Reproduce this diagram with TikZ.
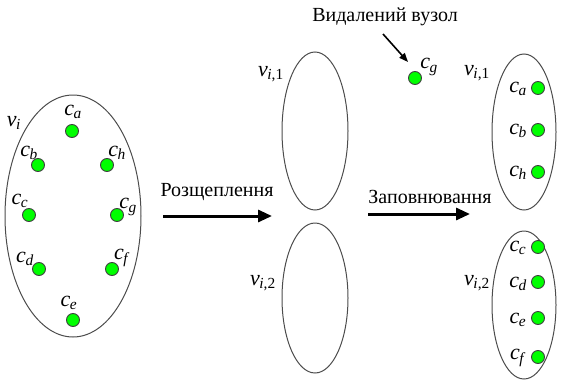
\documentclass[tikz,border=0pt]{standalone}
\usepackage{fontspec}
\setmainfont{Liberation Serif}
\usetikzlibrary{shapes.geometric,arrows.meta}
\newcommand{\lb}[2]{\textit{#1}\textsubscript{\kern-0.5pt\textit{#2}}}
\newcommand{\lbv}[1]{\textit{v}\textsubscript{\kern-0.5pt\textit{i},#1}}
\tikzset{
  dot/.style={circle,draw=black!75,line width=0.9pt,fill=green,minimum size=13pt,inner sep=0pt},
  grp/.style={ellipse,draw=black!70,line width=1pt,inner sep=0pt},
  lab/.style={font=\fontsize{22}{24}\selectfont,inner sep=0pt},
  txt/.style={font=\fontsize{20}{22}\selectfont,inner sep=0pt},
  bigarrow/.style={line width=3pt,-{Triangle[length=14pt,width=12pt]}},
  smallarrow/.style={line width=1.6pt,-{Triangle[length=9pt,width=7pt]}}
}
\begin{document}
\begin{tikzpicture}[x=1pt,y=-1pt]
\useasboundingbox (0,0) rectangle (565,383);
% left big group
\node[grp,minimum width=136pt,minimum height=242pt] (vi) at (73,216) {};
\node[lab] (tvi) at (14,123) {\lb{v}{i}};
\node[dot] (da) at (72,131) {};
\node[dot] (db) at (38,165) {};
\node[dot] (dh) at (107,165) {};
\node[dot] (dc) at (29,215) {};
\node[dot] (dg) at (117,215) {};
\node[dot] (dd) at (39,269) {};
\node[dot] (df) at (112,269) {};
\node[dot] (de) at (73,320) {};
\node[lab] (la) at (73,112) {\lb{c}{a}};
\node[lab] (lbb) at (29,153) {\lb{c}{b}};
\node[lab] (lh) at (117,153) {\lb{c}{h}};
\node[lab] (lc) at (20,201) {\lb{c}{c}};
\node[lab] (lg) at (128,207) {\lb{c}{g}};
\node[lab] (ld) at (25,259) {\lb{c}{d}};
\node[lab] (lf) at (122,258) {\lb{c}{f}};
\node[lab] (le) at (69,303) {\lb{c}{e}};
% arrow 1
\coordinate (a1s) at (163,216);
\coordinate (a1e) at (272,216);
\draw[bigarrow] (a1s) -- (a1e);
\node[txt] (t1) at (217,192) {Розщеплення};
% middle groups
\node[grp,minimum width=66pt,minimum height=158pt] (m1) at (315,131) {};
\node[grp,minimum width=66pt,minimum height=150pt] (m2) at (315,298) {};
\node[lab] (tm1) at (271,74) {\lbv{1}};
\node[lab] (tm2) at (263,283) {\lbv{2}};
% removed node
\node[txt] (rem) at (385,17) {Видалений вузол};
\node[dot] (dgr) at (415,78) {};
\node[lab] (lgr) at (429,67) {\lb{c}{g}};
\coordinate (r1) at (383,34);
\coordinate (r2) at (408,62);
\draw[smallarrow] (r1) -- (r2);
% arrow 2
\coordinate (a2s) at (368,214);
\coordinate (a2e) at (470,214);
\draw[bigarrow] (a2s) -- (a2e);
\node[txt] (t2) at (430,197) {Заповнювання};
% right groups
\node[grp,minimum width=64pt,minimum height=156pt] (r1g) at (524,132) {};
\node[grp,minimum width=64pt,minimum height=148pt] (r2g) at (524,305) {};
\node[lab] (tr1) at (477,73) {\lbv{1}};
\node[lab] (tr2) at (477,283) {\lbv{2}};
\node[dot] (ra) at (538,88) {};
\node[dot] (rb) at (538,130) {};
\node[dot] (rh) at (538,172) {};
\node[lab] (lra) at (518,89) {\lb{c}{a}};
\node[lab] (lrb) at (518,131) {\lb{c}{b}};
\node[lab] (lrh) at (518,173) {\lb{c}{h}};
\node[dot] (rc) at (538,247) {};
\node[dot] (rd) at (538,282) {};
\node[dot] (re) at (538,318) {};
\node[dot] (rf) at (538,357) {};
\node[lab] (lrc) at (518,248) {\lb{c}{c}};
\node[lab] (lrd) at (518,284) {\lb{c}{d}};
\node[lab] (lre) at (518,320) {\lb{c}{e}};
\node[lab] (lrf) at (518,358) {\lb{c}{f}};
\end{tikzpicture}
\end{document}
